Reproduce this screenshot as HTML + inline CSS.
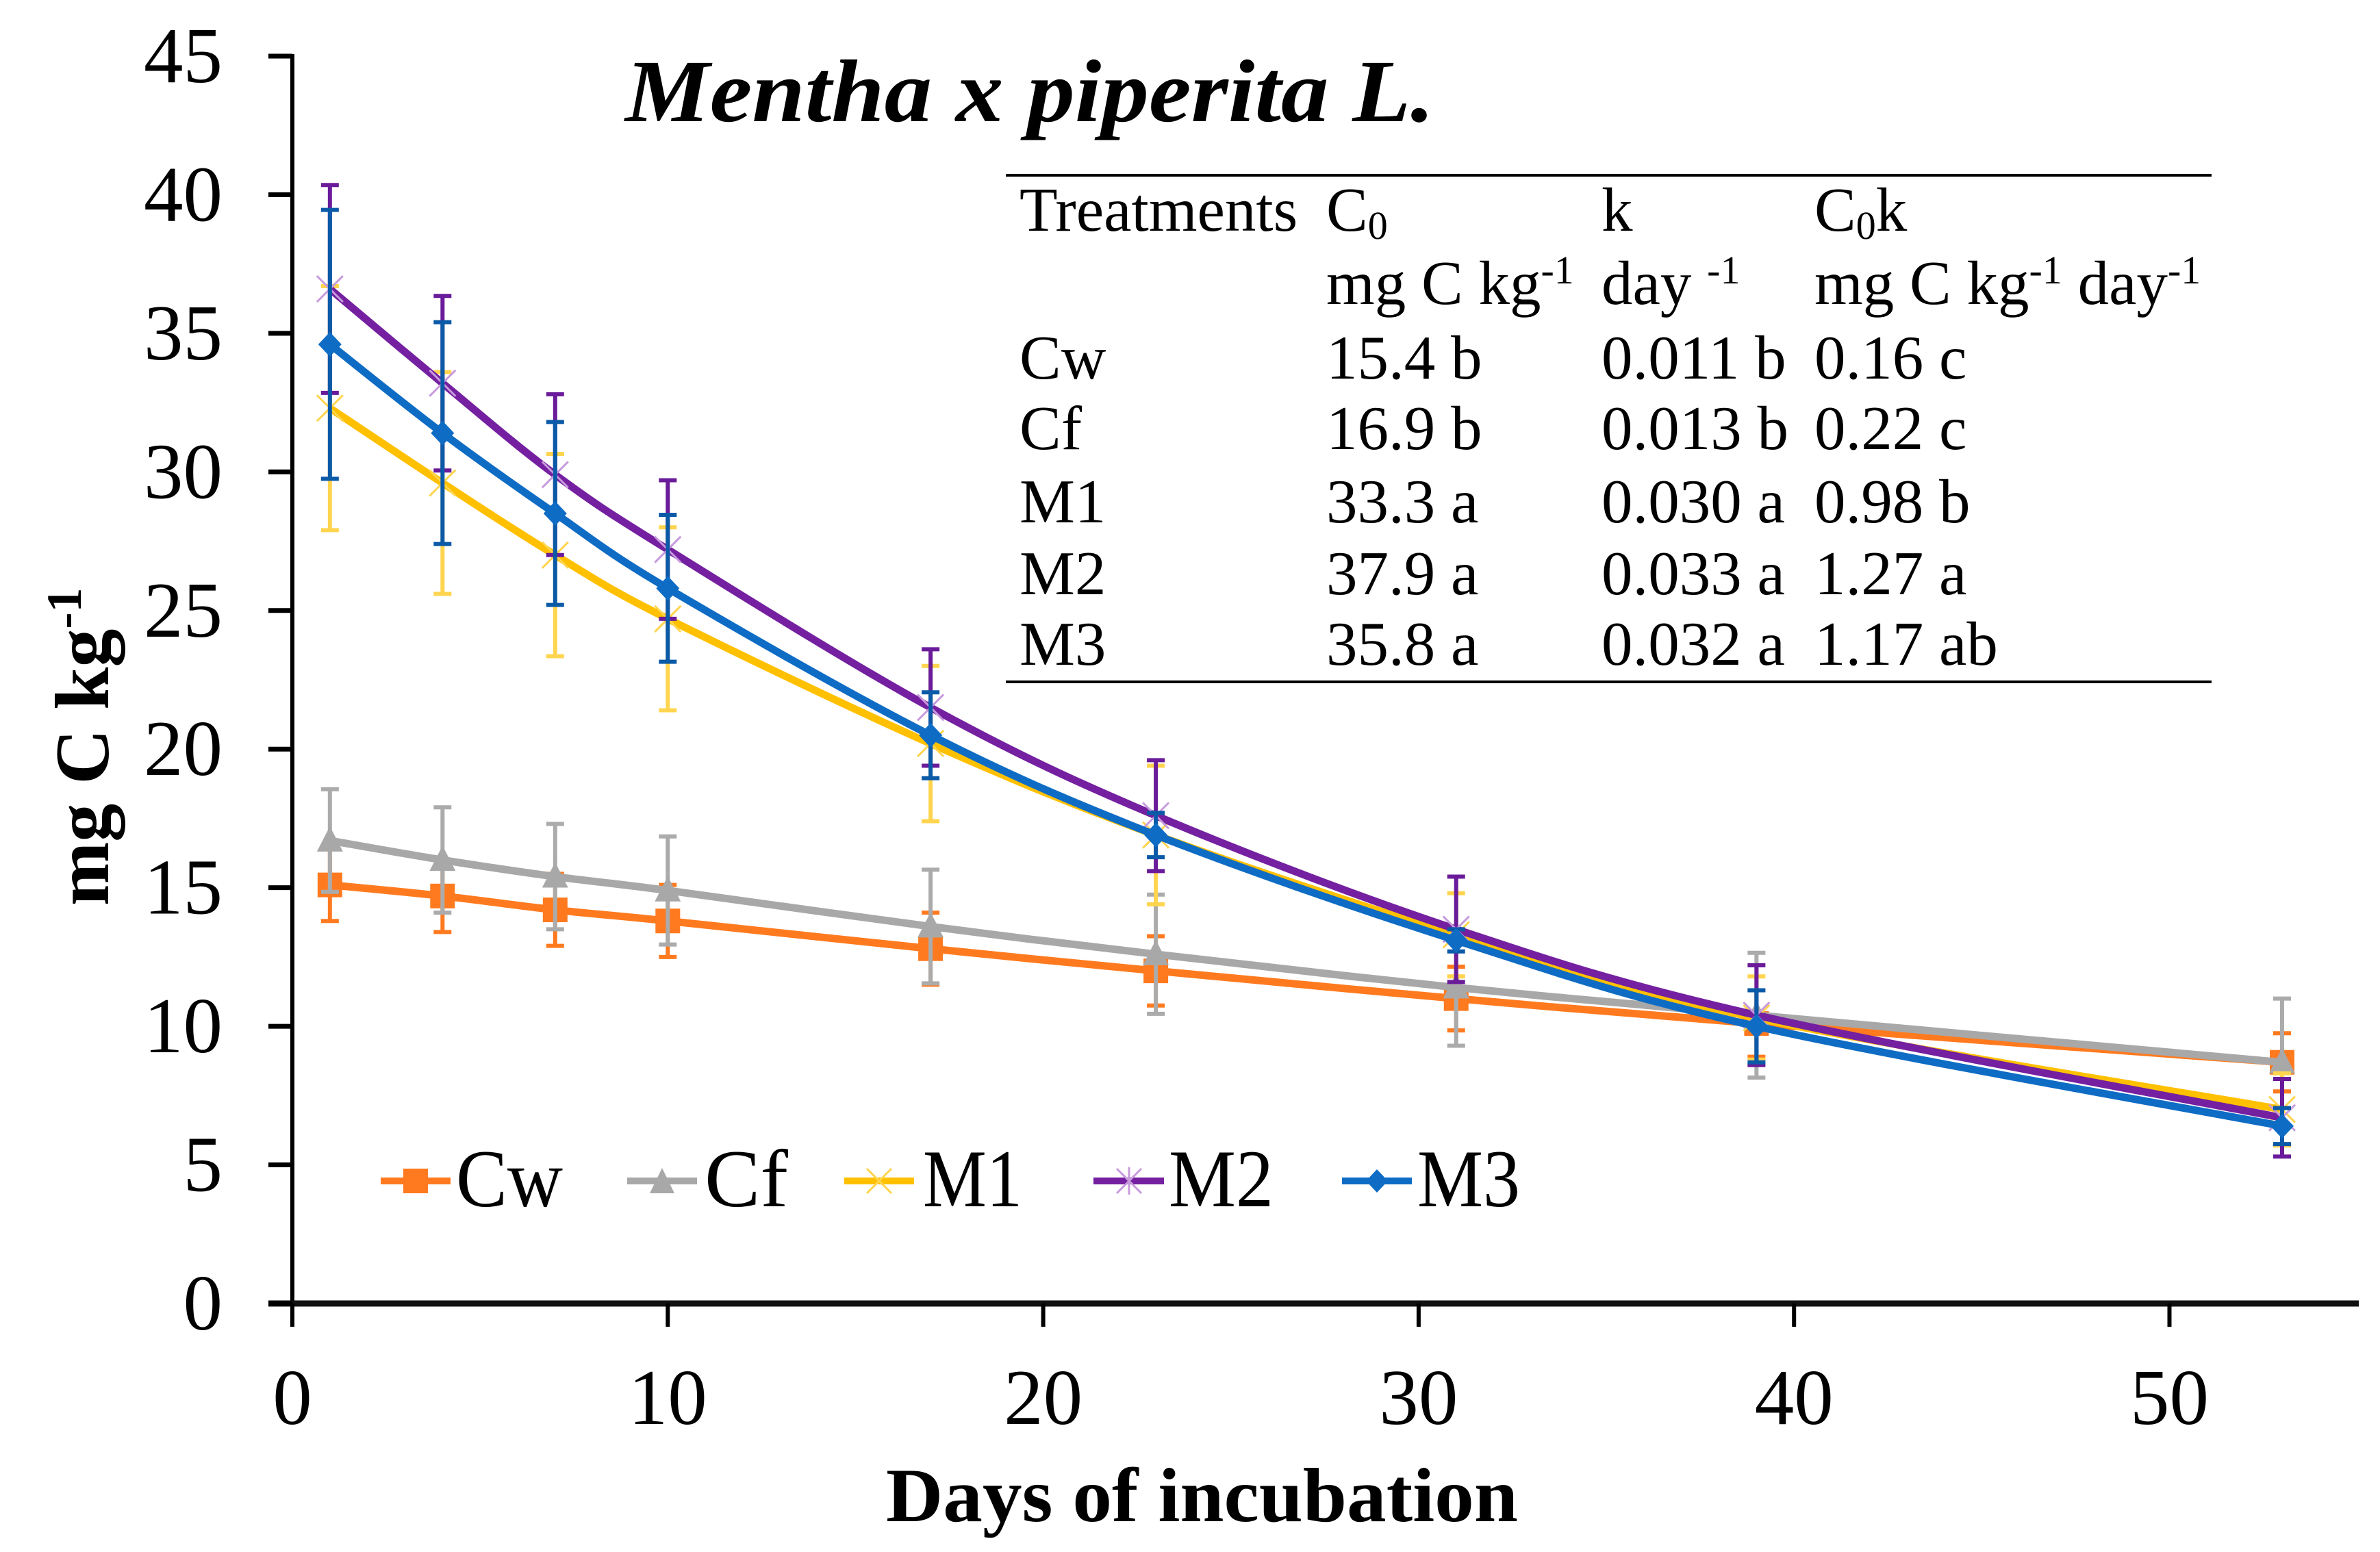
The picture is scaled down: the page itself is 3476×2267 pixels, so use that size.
<!DOCTYPE html>
<html lang="en">
<head>
<meta charset="utf-8">
<title>Mentha x piperita L.</title>
<style>
html,body{margin:0;padding:0;background:#fff;width:3476px;height:2267px;overflow:hidden}
svg{display:block;font-family:"Liberation Serif","Times New Roman",serif;fill:#000}
.cell{font-size:91px}
.sub{font-size:58px}
.leg{font-size:120px}
</style>
</head>
<body>
<svg id="chart" xmlns="http://www.w3.org/2000/svg" width="3476" height="2267" viewBox="0 0 3476 2267">
  <rect x="0" y="0" width="3476" height="2267" fill="#fff"/>
  <text x="913" y="177" font-size="130" font-weight="bold" font-style="italic" textLength="1182" lengthAdjust="spacingAndGlyphs">Mentha x piperita L.</text>
  <text x="1294" y="2222" font-size="112" font-weight="bold" textLength="923" lengthAdjust="spacingAndGlyphs">Days of incubation</text>
  <text transform="translate(158 1323) rotate(-90)" font-size="112" font-weight="bold">mg C kg<tspan font-size="72" dy="-40">-1</tspan></text>

  <g>
    <line x1="1469" y1="256" x2="3230" y2="256" stroke="#000" stroke-width="4"/>
    <line x1="1469" y1="996" x2="3230" y2="996" stroke="#000" stroke-width="4"/>
    <text class="cell" x="1489" y="337">Treatments</text>
    <text class="cell" x="1937" y="337">C<tspan class="sub" dy="12">0</tspan></text>
    <text class="cell" x="2339" y="337">k</text>
    <text class="cell" x="2650" y="337">C<tspan class="sub" dy="12">0</tspan><tspan dy="-12">k</tspan></text>
    <text class="cell" x="1937" y="444">mg C kg<tspan class="sub" dy="-30">-1</tspan></text>
    <text class="cell" x="2339" y="444">day <tspan class="sub" dy="-30">-1</tspan></text>
    <text class="cell" x="2650" y="444">mg C kg<tspan class="sub" dy="-30">-1</tspan><tspan dy="30"> day</tspan><tspan class="sub" dy="-30">-1</tspan></text>
    <text class="cell" x="1489" y="553">Cw</text>
    <text class="cell" x="1937" y="553">15.4 b</text>
    <text class="cell" x="2339" y="553">0.011 b</text>
    <text class="cell" x="2650" y="553">0.16 c</text>
    <text class="cell" x="1489" y="656">Cf</text>
    <text class="cell" x="1937" y="656">16.9 b</text>
    <text class="cell" x="2339" y="656">0.013 b</text>
    <text class="cell" x="2650" y="656">0.22 c</text>
    <text class="cell" x="1489" y="763">M1</text>
    <text class="cell" x="1937" y="763">33.3 a</text>
    <text class="cell" x="2339" y="763">0.030 a</text>
    <text class="cell" x="2650" y="763">0.98 b</text>
    <text class="cell" x="1489" y="868">M2</text>
    <text class="cell" x="1937" y="868">37.9 a</text>
    <text class="cell" x="2339" y="868">0.033 a</text>
    <text class="cell" x="2650" y="868">1.27 a</text>
    <text class="cell" x="1489" y="971">M3</text>
    <text class="cell" x="1937" y="971">35.8 a</text>
    <text class="cell" x="2339" y="971">0.032 a</text>
    <text class="cell" x="2650" y="971">1.17 ab</text>
  </g>

  <g id="axes"></g>
  <g id="plot"></g>

  <g>
    <g>
      <line x1="556" y1="1725" x2="658" y2="1725" stroke="#FF7A1F" stroke-width="10"/>
      <rect x="589" y="1707" width="36" height="36" fill="#FF7A1F"/>
      <text class="leg" x="666" y="1762" textLength="156" lengthAdjust="spacingAndGlyphs">Cw</text>
    </g>
    <g>
      <line x1="916" y1="1725" x2="1018" y2="1725" stroke="#A8A8A8" stroke-width="10"/>
      <polygon points="967,1706 985,1743 949,1743" fill="#A8A8A8"/>
      <text class="leg" x="1029" y="1762" textLength="122" lengthAdjust="spacingAndGlyphs">Cf</text>
    </g>
    <g>
      <line x1="1233" y1="1725" x2="1335" y2="1725" stroke="#FFC000" stroke-width="10"/>
      <path d="M1266 1707L1302 1743M1302 1707L1266 1743" stroke="#FFD54F" stroke-width="3" fill="none"/>
      <text class="leg" x="1348" y="1762" textLength="145" lengthAdjust="spacingAndGlyphs">M1</text>
    </g>
    <g>
      <line x1="1597" y1="1725" x2="1700" y2="1725" stroke="#7420A0" stroke-width="10"/>
      <path d="M1631 1707L1667 1743M1667 1707L1631 1743M1649 1705L1649 1745" stroke="#C79BDD" stroke-width="3" fill="none"/>
      <text class="leg" x="1707" y="1762" textLength="153" lengthAdjust="spacingAndGlyphs">M2</text>
    </g>
    <g>
      <line x1="1960" y1="1725" x2="2062" y2="1725" stroke="#0F6CC4" stroke-width="10"/>
      <polygon points="2011,1708 2027,1725 2011,1742 1995,1725" fill="#0F6CC4"/>
      <text class="leg" x="2070" y="1762" textLength="150" lengthAdjust="spacingAndGlyphs">M3</text>
    </g>
  </g>
</svg>

<script>
// Chart data
const days = [1, 4, 7, 10, 17, 23, 31, 39, 53];
const yTickLabels = [0, 5, 10, 15, 20, 25, 30, 35, 40, 45];
const xTickLabels = [0, 10, 20, 30, 40, 50];

const cwValues = [15.1, 14.7, 14.2, 13.8, 12.8, 12.0, 11.0, 10.1, 8.7];
const cfValues = [16.7, 16.0, 15.4, 14.9, 13.6, 12.6, 11.4, 10.4, 8.7];
const m1Values = [32.3, 29.6, 27.0, 24.7, 20.2, 16.9, 13.3, 10.3, 7.0];
const m2Values = [36.6, 33.2, 29.9, 27.2, 21.5, 17.6, 13.5, 10.4, 6.7];
const m3Values = [34.6, 31.4, 28.5, 25.8, 20.5, 16.9, 13.1, 10.0, 6.4];

const cwErrors = [1.3, 1.3, 1.3, 1.3, 1.3, 1.25, 1.15, 1.2, 1.05];
const cfErrors = [1.85, 1.9, 1.9, 1.95, 2.05, 2.15, 2.1, 2.25, 2.3];
const m1Errors = [4.4, 4.0, 3.65, 3.3, 2.8, 2.5, 1.5, 1.5, 1.3];
const m2Errors = [3.75, 3.15, 2.9, 2.5, 2.1, 2.0, 1.9, 1.8, 1.4];
const m3Errors = [4.85, 4.0, 3.3, 2.65, 1.55, 0.8, 0.4, 1.3, 0.65];

const seriesNames = ['cw', 'cf', 'm1', 'm2', 'm3'];
const seriesValues = [cwValues, cfValues, m1Values, m2Values, m3Values];
const seriesErrors = [cwErrors, cfErrors, m1Errors, m2Errors, m3Errors];
const lineColors = ['#FF7A1F', '#A8A8A8', '#FFC000', '#7420A0', '#0F6CC4'];
const errorColors = ['#FF7A1F', '#ABABAB', '#FFD54F', '#6A1B9A', '#0B5AA8'];

const NS = 'http://www.w3.org/2000/svg';
const xOrigin = 427, xScale = 54.83;
const yOrigin = 1904, yScale = 40.49;
const xAxisFn = function (d) { return xOrigin + d * xScale; };
const yAxisFn = function (v) { return yOrigin - v * yScale; };

function make(tag, attrs, parent) {
  const el = document.createElementNS(NS, tag);
  Object.keys(attrs).forEach(function (k) { el.setAttribute(k, attrs[k]); });
  parent.appendChild(el);
  return el;
}

const axes = document.getElementById('axes');
const plot = document.getElementById('plot');

const yAxisLine = make('line', { x1: xOrigin, y1: yAxisFn(45) - 3, x2: xOrigin, y2: yOrigin + 34, stroke: '#000', 'stroke-width': 6 }, axes);


const xAxisLine = make('line', { x1: xOrigin - 35, y1: yOrigin, x2: 3445, y2: yOrigin, stroke: '#111', 'stroke-width': 9 }, axes);



yTickLabels.forEach(function (t) {
  const y = yAxisFn(t);
  const tick = make('line', { x1: xOrigin - 35, y1: y, x2: xOrigin, y2: y, stroke: '#000', 'stroke-width': 7 }, axes);
  
  
  const label = make('text', { x: 325, y: y + 38, 'text-anchor': 'end', 'font-size': 115 }, axes);
  
  
  label.textContent = t;
});

xTickLabels.forEach(function (t) {
  const x = xAxisFn(t);
  const tick = make('line', { x1: x, y1: yOrigin, x2: x, y2: yOrigin + 34, stroke: '#000', 'stroke-width': 6 }, axes);
  
  
  const label = make('text', { x: x, y: 2080, 'text-anchor': 'middle', 'font-size': 115 }, axes);
  
  
  label.textContent = t;
});

function smoothPath(pts) {
  let d = 'M' + pts[0][0] + ' ' + pts[0][1];
  for (let i = 0; i < pts.length - 1; i++) {
    const p0 = pts[Math.max(i - 1, 0)], p1 = pts[i], p2 = pts[i + 1], p3 = pts[Math.min(i + 2, pts.length - 1)];
    const c1x = p1[0] + (p2[0] - p0[0]) / 6, c1y = p1[1] + (p2[1] - p0[1]) / 6;
    const c2x = p2[0] - (p3[0] - p1[0]) / 6, c2y = p2[1] - (p3[1] - p1[1]) / 6;
    d += 'C' + c1x + ' ' + c1y + ' ' + c2x + ' ' + c2y + ' ' + p2[0] + ' ' + p2[1];
  }
  return d;
}

function drawMarker(kind, x, y, color, g) {
  if (kind === 'cw') {
    return make('rect', { x: x - 18, y: y - 18, width: 36, height: 36, fill: color }, g);
  }
  if (kind === 'cf') {
    return make('polygon', { points: (x) + ',' + (y - 21) + ' ' + (x + 19) + ',' + (y + 16) + ' ' + (x - 19) + ',' + (y + 16), fill: color }, g);
  }
  if (kind === 'm1') {
    return make('path', { d: 'M' + (x - 19) + ' ' + (y - 19) + 'L' + (x + 19) + ' ' + (y + 19) + 'M' + (x + 19) + ' ' + (y - 19) + 'L' + (x - 19) + ' ' + (y + 19), stroke: '#FFD54F', 'stroke-width': 3, fill: 'none' }, g);
  }
  if (kind === 'm2') {
    return make('path', { d: 'M' + (x - 19) + ' ' + (y - 19) + 'L' + (x + 19) + ' ' + (y + 19) + 'M' + (x + 19) + ' ' + (y - 19) + 'L' + (x - 19) + ' ' + (y + 19), stroke: '#C79BDD', 'stroke-width': 3, fill: 'none' }, g);
  }
  return make('polygon', { points: x + ',' + (y - 18) + ' ' + (x + 17) + ',' + y + ' ' + x + ',' + (y + 18) + ' ' + (x - 17) + ',' + y, fill: color }, g);
}

seriesNames.forEach(function (name, s) {
  const group = make('g', {}, plot);
  
  
  const values = seriesValues[s];
  const errors = seriesErrors[s];

  days.forEach(function (day, i) {
    const x = xAxisFn(day);
    const top = yAxisFn(values[i] + errors[i]);
    const bottom = yAxisFn(values[i] - errors[i]);
    const d = 'M' + x + ' ' + top + 'V' + bottom + 'M' + (x - 13) + ' ' + top + 'H' + (x + 13) + 'M' + (x - 13) + ' ' + bottom + 'H' + (x + 13);
    const bar = make('path', { d: d, stroke: errorColors[s], 'stroke-width': 6, fill: 'none' }, group);
    
    
  });

  const pts = days.map(function (day, i) { return [xAxisFn(day), yAxisFn(values[i])]; });
  const line = make('path', { d: smoothPath(pts), stroke: lineColors[s], 'stroke-width': 11, fill: 'none', 'stroke-linejoin': 'round' }, group);
  
  

  pts.forEach(function (p, i) {
    const marker = drawMarker(name, p[0], p[1], lineColors[s], group);
    
    
  });
});
</script>
</body>
</html>
